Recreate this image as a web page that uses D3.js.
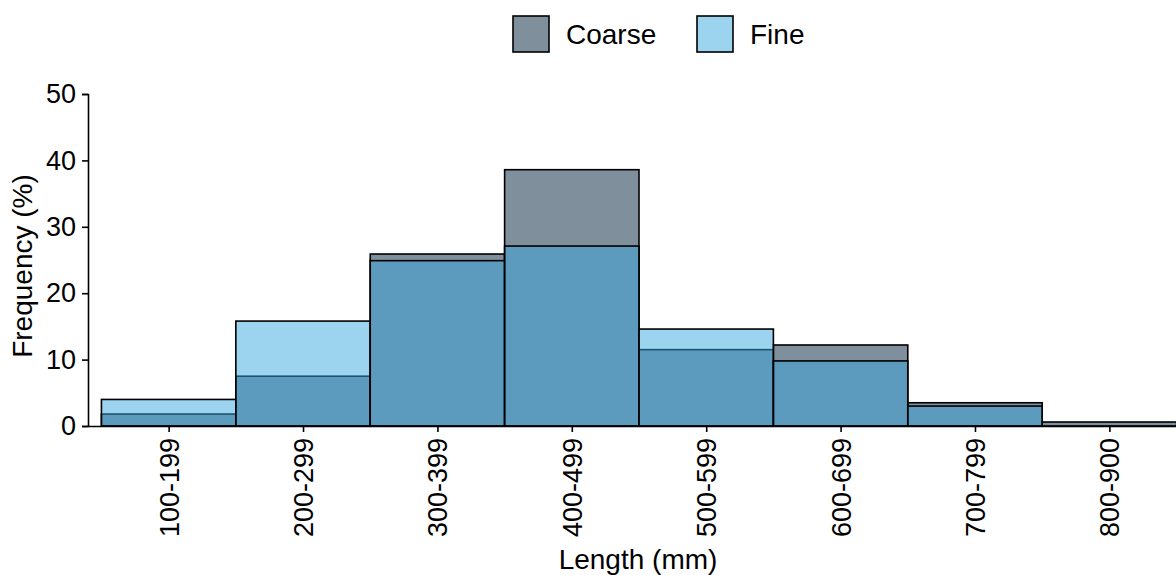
<!DOCTYPE html>
<html><head><meta charset="utf-8">
<script src="https://cdn.jsdelivr.net/npm/d3@7"></script>
<style>body{margin:0;background:#fff}svg{display:block;font-family:"Liberation Sans",Arial,sans-serif}</style>
</head><body><svg id="c" width="1176" height="575"></svg>
<script>
const categories = ["100-199","200-299","300-399","400-499","500-599","600-699","700-799","800-900"];
const coarse = [1.8, 7.5, 25.9, 38.6, 11.5, 12.2, 3.5, 0.6];
const fine   = [4.0, 15.8, 24.9, 27.1, 14.6, 9.8, 3.0, 0];
const yTicks = [0,10,20,30,40,50];
const seriesNames = ["Coarse","Fine"];
const coarseColor = "#7f8f9c", fineColor = "#3aa7dd";

const svg = d3.select("#c");
const x = d3.scaleLinear().domain([0.4, 8.6]).range([88, 1190]);
const y = d3.scaleLinear().domain([0, 50]).range([426, 94]);
const fs = 27, tfs = 28;

// coarse bars
svg.append("g").selectAll("rect").data(coarse).join("rect")
  .attr("x", (d,i)=>x(i+0.5)).attr("width", (d,i)=>x(i+1.5)-x(i+0.5))
  .attr("y", d=>y(d)).attr("height", d=>y(0)-y(d))
  .attr("fill", coarseColor).attr("stroke","#000").attr("stroke-width",1.6);
// fine bars
svg.append("g").selectAll("rect").data(fine).join("rect")
  .attr("x", (d,i)=>x(i+0.5)).attr("width", (d,i)=>x(i+1.5)-x(i+0.5))
  .attr("y", d=>y(d)).attr("height", d=>y(0)-y(d))
  .attr("fill", fineColor).attr("fill-opacity",0.5).attr("stroke","#000").attr("stroke-width",1.6)
  .attr("display", d=> d>0 ? null : "none");

// y axis
const ya = svg.append("g").attr("transform","translate(88,0)")
  .call(d3.axisLeft(y).tickValues(yTicks).tickSize(6).tickPadding(6));
ya.select(".domain").attr("stroke","#000").attr("stroke-width",1.6);
ya.selectAll(".tick line").attr("stroke","#000").attr("stroke-width",1.6);
ya.selectAll("text").attr("font-size",fs).attr("fill","#000").attr("font-family","Liberation Sans, Arial, sans-serif");

// x axis
const xa = svg.append("g").attr("transform","translate(0,426)")
  .call(d3.axisBottom(x).tickValues(d3.range(1,9)).tickFormat(d=>categories[d-1]).tickSize(6).tickSizeOuter(0));
xa.select(".domain").attr("stroke","#000").attr("stroke-width",1.6);
xa.selectAll(".tick line").attr("stroke","#000").attr("stroke-width",1.6);
xa.selectAll("text").attr("font-size",fs).attr("fill","#000").attr("font-family","Liberation Sans, Arial, sans-serif")
  .attr("transform","rotate(-90)").attr("text-anchor","end").attr("dy","0.35em").attr("x",-12).attr("y",0);

// axis titles
svg.append("text").attr("x",638).attr("y",569).attr("text-anchor","middle").attr("font-size",tfs).text("Length (mm)");
svg.append("text").attr("transform","translate(32,266) rotate(-90)").attr("text-anchor","middle").attr("font-size",tfs).text("Frequency (%)");

// legend
const leg = svg.append("g");
const legItems = [{n:seriesNames[0], c:coarseColor, o:1, x:513},{n:seriesNames[1], c:fineColor, o:0.5, x:697}];
legItems.forEach(it=>{
  leg.append("rect").attr("x",it.x).attr("y",16).attr("width",36).attr("height",36)
    .attr("fill",it.c).attr("fill-opacity",it.o).attr("stroke","#000").attr("stroke-width",1.6);
  leg.append("text").attr("x",it.x+53).attr("y",44).attr("font-size",tfs).text(it.n);
});
</script></body></html>
